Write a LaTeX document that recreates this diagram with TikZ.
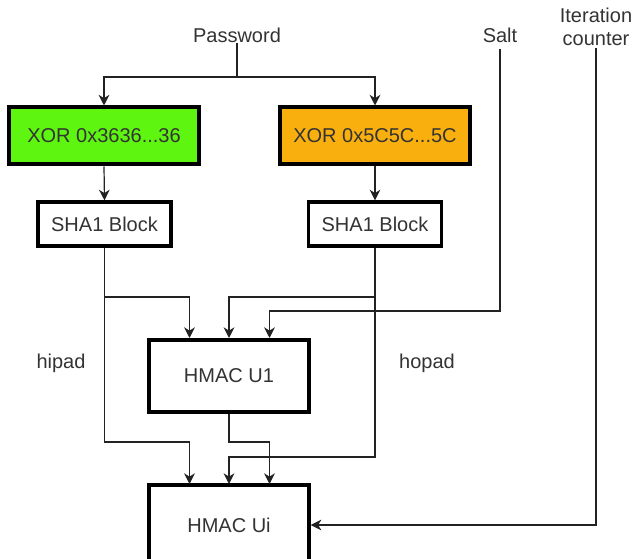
\documentclass[tikz,border=0pt]{standalone}
\usepackage{fontspec}
\setmainfont{Liberation Sans}
\usetikzlibrary{arrows.meta}
\definecolor{xgreen}{HTML}{5EF510}
\definecolor{xorange}{HTML}{F9B00E}
\definecolor{txt}{HTML}{333333}
\definecolor{ln}{HTML}{222222}
\begin{document}
\begin{tikzpicture}[x=0.75pt,y=-0.75pt,
  every node/.style={font=\fontsize{15pt}{17pt}\selectfont, text=txt},
  xorbox/.style={draw=black, line width=3pt, minimum width=190*0.75pt, minimum height=57*0.75pt, inner sep=0pt},
  shabox/.style={draw=black, line width=2.4pt, fill=white, minimum width=133*0.75pt, minimum height=44*0.75pt, inner sep=0pt},
  hbox/.style={draw=black, line width=2.6pt, fill=white, minimum width=160*0.75pt, minimum height=72*0.75pt, inner sep=0pt},
  lbl/.style={inner sep=0pt},
  conn/.style={draw=ln, line width=0.9pt, -{Stealth[length=8pt,width=8pt,inset=2.5pt]}},
  plain/.style={draw=ln, line width=0.9pt}
]
\useasboundingbox (0,0) rectangle (633,559);
% labels
\node[lbl] (pw) at (237,35) {Password};
\node[lbl] (salt) at (500,35) {Salt};
\node[lbl, align=center, font=\fontsize{15pt}{17pt}\selectfont] (ic) at (596,27) {Iteration\\counter};
\node[lbl] (hipad) at (61,363) {hipad};
\node[lbl] (hopad) at (427,363) {hopad};
% boxes
\node[xorbox, fill=xgreen] (xg) at (104,136) {XOR 0x3636...36};
\node[xorbox, fill=xorange] (xo) at (375,136) {XOR 0x5C5C...5C};
\node[shabox] (s1) at (104.5,224) {SHA1 Block};
\node[shabox] (s2) at (375,224) {SHA1 Block};
\node[hbox] (u1) at (229,376) {HMAC U1};
\node[hbox, minimum height=80*0.75pt] (ui) at (229,525) {HMAC Ui};
% coordinates
\coordinate (pwj) at (237,77);
\coordinate (hj) at (104.5,297);
\coordinate (oj) at (375,297);
% password
\draw[plain] (pw.south) -- (pwj);
\draw[conn] (pwj) -| (xg.north);
\draw[conn] (pwj) -| (xo.north);
% xor to sha
\draw[conn] (xg.south) -- (s1.north);
\draw[conn] (xo.south) -- (s2.north);
% hipad
\draw[conn] (s1.south) -- (hj) -| (189.5,338);
\draw[conn] (hj) |- (189.5,442) -- (189.5,484);
% hopad
\draw[conn] (s2.south) -- (oj) -| (229,338);
\draw[conn] (oj) |- (229,457) -- (229,484);
% salt
\draw[conn] ([yshift=-6*0.75pt]salt.south) |- (269.5,311) -- (269.5,338);
% U1 to Ui
\draw[conn] (u1.south) |- (269.5,442) -- (269.5,484);
% counter
\draw[conn] ([yshift=-2*0.75pt]ic.south) |- (ui.east);
\end{tikzpicture}
\end{document}
